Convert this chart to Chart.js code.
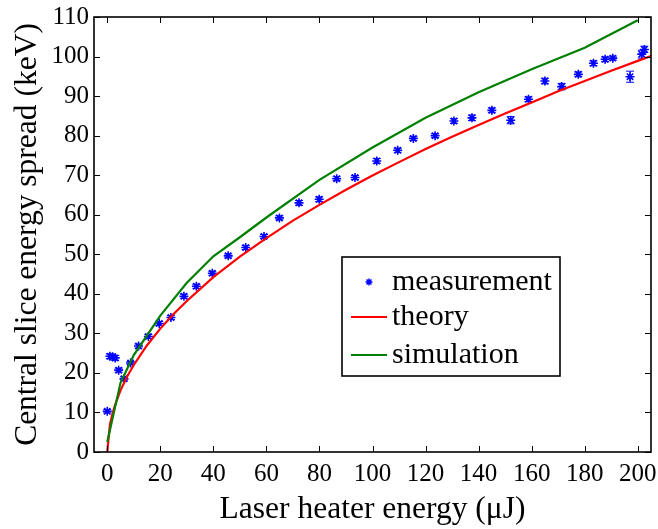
<!DOCTYPE html>
<html><head><meta charset="utf-8">
<style>html,body{margin:0;padding:0;background:#fff;}#wrap{width:658px;height:529px;}</style>
<script src="https://cdn.jsdelivr.net/npm/chart.js@4/dist/chart.umd.min.js"></script>
</head><body><div id="wrap"><canvas id="c" width="658" height="529"></canvas></div>
<script>
// ---- data ----
const measEnergy = [0, 1, 2, 3, 4.3, 6.3, 8.8, 11.8, 15.5, 19.6, 24, 28.9, 33.6, 39.6, 45.6, 52.2, 59.1, 64.9, 72.3, 79.9, 86.5, 93.4, 101.6, 109.5, 115.4, 123.6, 130.7, 137.5, 145, 152.1, 158.8, 165, 171.3, 177.6, 183.3, 187.7, 190.6, 197.1, 201.5, 202.5];
const measSpread = [10.3, 24.2, 24.1, 23.8, 20.7, 18.5, 22.5, 26.8, 29.2, 32.5, 34.0, 39.4, 41.9, 45.2, 49.6, 51.7, 54.5, 59.2, 63.0, 63.9, 69.1, 69.4, 73.6, 76.3, 79.3, 80.0, 83.7, 84.5, 86.4, 83.9, 89.2, 93.8, 92.4, 95.5, 98.3, 99.3, 99.6, 94.9, 100.6, 101.8];
const measError  = [0.4, 0.6, 0.6, 0.6, 0.5, 0.5, 0.4, 0.5, 0.5, 0.5, 0.5, 0.5, 0.5, 0.5, 0.5, 0.5, 0.5, 0.5, 0.6, 0.6, 0.5, 0.5, 0.6, 0.5, 0.5, 0.5, 0.6, 0.7, 0.6, 0.9, 0.6, 0.7, 0.8, 0.6, 0.6, 0.6, 0.5, 1.4, 1.0, 0.8];

const theoryEnergy = [0, 1, 2, 3, 5, 7.5, 10, 15, 20, 25, 30, 40, 50, 60, 70, 80, 90, 100, 110, 120, 130, 140, 150, 160, 170, 180, 190, 200, 205];
const theorySpread = [0, 6.9, 9.8, 12.0, 15.6, 19.1, 22.0, 27.0, 31.2, 34.9, 38.2, 44.2, 49.4, 54.1, 58.5, 62.5, 66.3, 69.9, 73.3, 76.6, 79.7, 82.7, 85.6, 88.4, 91.2, 93.8, 96.4, 98.9, 100.1];

const simEnergy = [0, 5, 10, 20, 30, 40, 50, 60, 80, 100, 120, 140, 160, 180, 200];
const simSpread = [2.5, 17.5, 24.5, 34.5, 42.8, 49.5, 54.3, 59.3, 68.8, 77.0, 84.5, 91.0, 96.8, 102.2, 109.2];

const xTickValues = [0, 20, 40, 60, 80, 100, 120, 140, 160, 180, 200];
const yTickValues = [0, 10, 20, 30, 40, 50, 60, 70, 80, 90, 100, 110];
const seriesLabels = ['measurement', 'theory', 'simulation'];
const xTitle = 'Laser heater energy (\u03bcJ)';
const yTitle = 'Central slice energy spread (keV)';

// ---- build chart ----
const FAMILY = "'Liberation Serif', 'Times New Roman', serif";
const toPts = (xs, ys) => xs.map((x, i) => ({x: x, y: ys[i]}));

const framePlugin = {
  id: 'frameTicksLegend',
  beforeDatasetsDraw(chart) {
    const ctx = chart.ctx, xs = chart.scales.x, ys = chart.scales.y;
    ctx.save();
    ctx.strokeStyle = '#0000ff';
    ctx.lineWidth = 1;
    measEnergy.forEach((e, i) => {
      const px = xs.getPixelForValue(e);
      const y1 = ys.getPixelForValue(measSpread[i] - measError[i]);
      const y2 = ys.getPixelForValue(measSpread[i] + measError[i]);
      ctx.beginPath();
      ctx.moveTo(px, y1); ctx.lineTo(px, y2);
      ctx.moveTo(px - 4, y1); ctx.lineTo(px + 4, y1);
      ctx.moveTo(px - 4, y2); ctx.lineTo(px + 4, y2);
      ctx.stroke();
    });
    ctx.restore();
  },
  afterDraw(chart) {
    const ctx = chart.ctx, ca = chart.chartArea, xs = chart.scales.x, ys = chart.scales.y;
    ctx.save();
    ctx.strokeStyle = '#000';
    ctx.lineWidth = 1;
    const tl = 6;
    ctx.beginPath();
    xs.ticks.forEach(t => {
      const px = Math.round(xs.getPixelForValue(t.value)) + 0.5;
      ctx.moveTo(px, ca.bottom); ctx.lineTo(px, ca.bottom - tl);
      ctx.moveTo(px, ca.top); ctx.lineTo(px, ca.top + tl);
    });
    ys.ticks.forEach(t => {
      const py = Math.round(ys.getPixelForValue(t.value)) + 0.5;
      ctx.moveTo(ca.left, py); ctx.lineTo(ca.left + tl, py);
      ctx.moveTo(ca.right, py); ctx.lineTo(ca.right - tl, py);
    });
    ctx.stroke();
    ctx.lineWidth = 1.6;
    ctx.strokeRect(ca.left, ca.top, ca.right - ca.left, ca.bottom - ca.top);

    // legend
    const bx = ca.left + 248, by = ca.top + 240, bw = 218, bh = 119;
    ctx.fillStyle = '#fff';
    ctx.fillRect(bx, by, bw, bh);
    ctx.lineWidth = 1.6;
    ctx.strokeStyle = '#000';
    ctx.strokeRect(bx, by, bw, bh);
    const rows = [by + 25, by + 60, by + 98];
    ctx.font = '30px ' + FAMILY;
    ctx.textBaseline = 'middle';
    ctx.textAlign = 'left';
    chart.data.datasets.forEach((ds, i) => {
      const ry = rows[i];
      if (ds.showLine) {
        ctx.strokeStyle = ds.borderColor;
        ctx.lineWidth = ds.borderWidth;
        ctx.beginPath(); ctx.moveTo(bx + 9, ry); ctx.lineTo(bx + 45, ry); ctx.stroke();
      } else {
        ctx.strokeStyle = ds.pointBorderColor;
        ctx.fillStyle = ds.pointBorderColor;
        ctx.lineWidth = 1.5;
        Chart.helpers.drawPoint(ctx, {pointStyle: 'star', radius: 3.5, borderWidth: 1.5, rotation: 0}, bx + 27, ry);
      }
      ctx.fillStyle = '#000';
      ctx.fillText(ds.label, bx + 50, ry);
    });
    ctx.restore();
  }
};

const chart = new Chart(document.getElementById('c'), {
  type: 'scatter',
  data: {
    datasets: [
      {label: seriesLabels[0], data: toPts(measEnergy, measSpread), showLine: false,
       pointStyle: 'star', pointRadius: 4.5, pointBorderWidth: 1.6,
       pointBorderColor: '#0000ff', pointBackgroundColor: '#0000ff', borderColor: '#0000ff', order: 3},
      {label: seriesLabels[1], data: toPts(theoryEnergy, theorySpread), showLine: true,
       borderColor: '#ff0000', borderWidth: 2.2, pointRadius: 0, tension: 0, order: 2},
      {label: seriesLabels[2], data: toPts(simEnergy, simSpread), showLine: true,
       borderColor: '#008000', borderWidth: 2.2, pointRadius: 0, tension: 0, order: 1}
    ]
  },
  options: {
    responsive: false,
    animation: false,
    devicePixelRatio: 1,
    layout: {padding: {left: 0, right: 7, top: 17, bottom: 0}},
    plugins: {legend: {display: false}, tooltip: {enabled: false}},
    scales: {
      x: {
        type: 'linear', min: -5, max: 205,
        afterBuildTicks: s => { s.ticks = xTickValues.map(v => ({value: v})); },
        afterFit: s => { s.height = 77; s.paddingLeft = 0; s.paddingRight = 0; },
        grid: {display: false, drawTicks: false}, border: {display: false},
        ticks: {font: {family: FAMILY, size: 25}, color: '#000', padding: 7, maxRotation: 0, autoSkip: false},
        title: {display: true, text: xTitle, color: '#000', font: {family: FAMILY, size: 31.5}, padding: {top: 0, bottom: 0}}
      },
      y: {
        type: 'linear', min: 0, max: 110,
        afterBuildTicks: s => { s.ticks = yTickValues.map(v => ({value: v})); },
        afterFit: s => { s.width = 94; s.paddingTop = 0; s.paddingBottom = 0; },
        grid: {display: false, drawTicks: false}, border: {display: false},
        ticks: {font: {family: FAMILY, size: 25}, color: '#000', padding: 5, autoSkip: false},
        title: {display: true, text: yTitle, color: '#000', font: {family: FAMILY, size: 31.5}, padding: {top: 9, bottom: 0}}
      }
    }
  },
  plugins: [framePlugin]
});
</script></body></html>
